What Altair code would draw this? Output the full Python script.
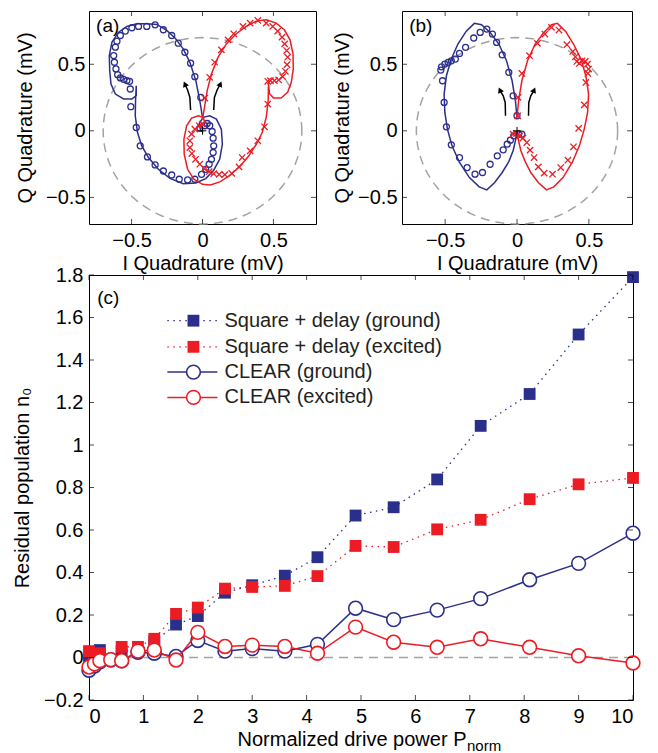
import altair as alt
import numpy as np
import pandas as pd

BLUE = "#2b2f8c"
RED = "#ec1c24"
GRAY = "#a3a3a3"
FONT = "Liberation Sans"

# ---------------- panel (c) data ----------------
p_norm = [0, 0.1, 0.2, 0.4, 0.6, 0.9, 1.2, 1.6, 2.0, 2.5, 3.0, 3.6, 4.2, 4.9, 5.6, 6.4, 7.2, 8.1, 9.0, 10]
square_ground = [-0.01, 0.02, 0.035, -0.01, 0.03, 0.03, 0.075, 0.155, 0.195, 0.305, 0.34, 0.385, 0.472,
                 0.668, 0.707, 0.838, 1.09, 1.24, 1.52, 1.79]
square_excited = [0.03, 0.01, 0.02, -0.01, 0.05, 0.05, 0.088, 0.205, 0.235, 0.324, 0.332, 0.337, 0.383,
                  0.525, 0.52, 0.603, 0.648, 0.745, 0.815, 0.845]
clear_ground = [-0.06, -0.04, -0.02, -0.012, -0.015, 0.025, 0.02, 0.005, 0.08, 0.03, 0.042, 0.03, 0.062,
                0.232, 0.178, 0.223, 0.277, 0.366, 0.443, 0.585]
clear_excited = [-0.045, -0.03, -0.015, -0.01, -0.015, 0.03, 0.035, -0.012, 0.118, 0.052, 0.058, 0.052, 0.02,
                 0.143, 0.072, 0.048, 0.088, 0.048, 0.008, -0.026]
c_xticks = [0, 1, 2, 3, 4, 5, 6, 7, 8, 9, 10]
c_yticks = [-0.2, 0, 0.2, 0.4, 0.6, 0.8, 1.0, 1.2, 1.4, 1.6, 1.8]

legend_labels = ["Square + delay (ground)", "Square + delay (excited)", "CLEAR (ground)", "CLEAR (excited)"]
legend_y = [1.585, 1.462, 1.343, 1.224]
legend_x_line = [1.44, 2.36]
legend_x_marker = 1.92
legend_x_text = 2.49

# ---------------- panel (a) data ----------------
a_ground_sim_I = [0, -0.019, -0.047, -0.089, -0.136, -0.194, -0.252, -0.322, -0.393, -0.463, -0.533, -0.591,
                  -0.638, -0.657, -0.654, -0.645, -0.614, -0.556, -0.498, -0.467, -0.467, -0.472, -0.474, -0.458,
                  -0.428, -0.381, -0.311, -0.229, -0.136, -0.047, 0.023, 0.079, 0.121, 0.140, 0.133, 0.098, 0.051,
                  0.005, -0.023, -0.014, 0.005]
a_ground_sim_Q = [0.10, 0.226, 0.377, 0.515, 0.616, 0.698, 0.754, 0.799, 0.804, 0.804, 0.784, 0.741, 0.666,
                  0.565, 0.452, 0.352, 0.276, 0.239, 0.239, 0.264, 0.339, 0.226, 0.113, -0.013, -0.113, -0.201,
                  -0.289, -0.357, -0.397, -0.392, -0.359, -0.296, -0.214, -0.101, 0.013, 0.088, 0.113, 0.101,
                  0.055, 0.005, -0.013]
a_ground_meas_I = [-0.012, -0.054, -0.084, -0.124, -0.171, -0.217, -0.276, -0.334, -0.393, -0.451, -0.498,
                   -0.544, -0.579, -0.603, -0.614, -0.626, -0.621, -0.610, -0.598, -0.579, -0.556, -0.533, -0.514,
                   -0.509, -0.505, -0.467, -0.439, -0.388, -0.334, -0.276, -0.217, -0.164, -0.105, -0.054,
                   -0.007, 0.023, 0.047, 0.063, 0.075, 0.079, 0.075, 0.068, 0.051, 0.033, 0.016, -0.019]
a_ground_meas_Q = [0.251, 0.407, 0.508, 0.590, 0.658, 0.716, 0.759, 0.796, 0.784, 0.784, 0.774, 0.749, 0.716,
                   0.673, 0.628, 0.565, 0.515, 0.465, 0.422, 0.397, 0.387, 0.377, 0.372, 0.314, 0.181, 0.025,
                   -0.113, -0.196, -0.256, -0.302, -0.332, -0.364, -0.369, -0.364, -0.327, -0.289, -0.251,
                   -0.214, -0.163, -0.113, -0.055, -0.005, 0.038, 0.055, 0.038, 0.020]
a_exc_sim_I = [0, 0.014, 0.033, 0.063, 0.110, 0.168, 0.238, 0.308, 0.379, 0.449, 0.519, 0.577, 0.617, 0.638,
               0.640, 0.626, 0.600, 0.554, 0.500, 0.472, 0.465, 0.463, 0.449, 0.421, 0.379, 0.327, 0.266, 0.196,
               0.126, 0.056, 0, -0.061, -0.105, -0.129, -0.131, -0.112, -0.077, -0.030, 0.005, 0.016]
a_exc_sim_Q = [0.088, 0.176, 0.302, 0.427, 0.553, 0.653, 0.729, 0.784, 0.824, 0.834, 0.809, 0.759, 0.683,
               0.578, 0.465, 0.364, 0.289, 0.246, 0.246, 0.281, 0.357, 0.226, 0.101, -0.013, -0.101, -0.188,
               -0.264, -0.332, -0.382, -0.407, -0.402, -0.364, -0.289, -0.176, -0.063, 0.038, 0.095, 0.113,
               0.101, 0.063]
a_exc_meas_I = [0.016, 0.051, 0.086, 0.133, 0.180, 0.220, 0.285, 0.336, 0.390, 0.449, 0.495, 0.530, 0.561,
                0.579, 0.593, 0.600, 0.596, 0.584, 0.565, 0.537, 0.507, 0.479, 0.460, 0.460, 0.437, 0.390,
                0.336, 0.280, 0.257, 0.206, 0.157, 0.117, 0.079, 0.047, 0.014, -0.019, -0.049, -0.075, -0.089,
                -0.089, -0.077, -0.054, -0.023, 0.0]
a_exc_meas_Q = [0.246, 0.402, 0.515, 0.608, 0.683, 0.729, 0.784, 0.809, 0.829, 0.809, 0.784, 0.749, 0.704,
                0.653, 0.603, 0.553, 0.497, 0.447, 0.407, 0.382, 0.377, 0.377, 0.372, 0.201, 0.030, -0.075,
                -0.151, -0.201, -0.271, -0.319, -0.329, -0.327, -0.322, -0.307, -0.284, -0.251, -0.214, -0.171,
                -0.126, -0.075, -0.025, 0.013, 0.038, 0.05]
a_arrow_I = [[-0.084, -0.089, -0.105, -0.124], [0.079, 0.084, 0.103, 0.126]]
a_arrow_Q = [[0.156, 0.251, 0.307, 0.352], [0.156, 0.251, 0.307, 0.352]]

# ---------------- panel (b) data ----------------
b_ground_sim_I = [0, -0.011, -0.034, -0.073, -0.126, -0.187, -0.247, -0.297, -0.354, -0.411, -0.457, -0.491,
                  -0.507, -0.502, -0.484, -0.452, -0.400, -0.331, -0.263, -0.210, -0.155, -0.103, -0.057,
                  -0.027, -0.011, -0.005]
b_ground_sim_Q = [0.100, 0.226, 0.376, 0.526, 0.652, 0.739, 0.797, 0.807, 0.747, 0.652, 0.539, 0.414, 0.276,
                  0.138, 0.013, -0.113, -0.238, -0.351, -0.421, -0.444, -0.388, -0.313, -0.231, -0.150,
                  -0.075, -0.025]
b_ground_meas_I = [0, -0.027, -0.057, -0.103, -0.142, -0.171, -0.210, -0.256, -0.301, -0.358, -0.400, -0.429,
                   -0.457, -0.479, -0.502, -0.525, -0.530, -0.518, -0.507, -0.491, -0.457, -0.400, -0.347,
                   -0.292, -0.240, -0.187, -0.137, -0.096, -0.068, -0.046, -0.023, 0.011, 0.034]
b_ground_meas_Q = [0.113, 0.263, 0.439, 0.571, 0.664, 0.727, 0.764, 0.739, 0.697, 0.627, 0.581, 0.539, 0.526,
                   0.514, 0.501, 0.481, 0.456, 0.376, 0.213, 0.030, -0.105, -0.201, -0.276, -0.326, -0.313,
                   -0.251, -0.188, -0.143, -0.100, -0.070, -0.038, -0.025, -0.025]
b_exc_sim_I = [0, 0.011, 0.034, 0.073, 0.126, 0.187, 0.240, 0.281, 0.338, 0.393, 0.445, 0.479, 0.498, 0.491,
               0.468, 0.434, 0.384, 0.320, 0.256, 0.205, 0.148, 0.096, 0.057, 0.027, 0.011, 0.005]
b_exc_sim_Q = [0.100, 0.226, 0.376, 0.526, 0.652, 0.739, 0.797, 0.807, 0.747, 0.652, 0.539, 0.414, 0.276,
               0.138, 0.013, -0.113, -0.238, -0.351, -0.421, -0.444, -0.388, -0.313, -0.231, -0.150, -0.075,
               -0.025]
b_exc_meas_I = [0.005, 0.007, 0.034, 0.087, 0.142, 0.194, 0.240, 0.292, 0.347, 0.388, 0.406, 0.416, 0.434,
                0.452, 0.475, 0.491, 0.498, 0.493, 0.479, 0.468, 0.429, 0.393, 0.354, 0.304, 0.247, 0.189,
                0.148, 0.119, 0.091, 0.068, 0.041, 0.018, -0.005, -0.027]
b_exc_meas_Q = [0.113, 0.251, 0.431, 0.564, 0.657, 0.727, 0.777, 0.757, 0.647, 0.596, 0.556, 0.521, 0.506,
                0.526, 0.521, 0.501, 0.464, 0.431, 0.363, 0.195, 0.018, -0.120, -0.221, -0.276, -0.326, -0.318,
                -0.271, -0.201, -0.145, -0.088, -0.055, -0.038, -0.020, -0.025]
b_arrow_I = [[-0.080, -0.082, -0.096, -0.119], [0.080, 0.082, 0.096, 0.119]]
b_arrow_Q = [[0.113, 0.213, 0.263, 0.306], [0.113, 0.213, 0.263, 0.306]]

quad_ticks = [-0.5, 0, 0.5]
quad_x_domain = [-0.8, 0.8]
quad_y_domain = [-0.7, 0.9]
R_CIRCLE = 0.7
arrow_head_angles = [336, 24]

X_PATH = "M-1,-1L1,1M-1,1L1,-1"
PLUS_PATH = "M-1,0L1,0M0,-1L0,1"
LABEL_EXPR = "replace(toString(datum.value), '-', '\u2212')"


def inner_ticks(xvals, yvals, xenc, yenc, W, H, L=5):
    tx = pd.DataFrame({"x": xvals})
    ty = pd.DataFrame({"y": yvals})
    out = []
    for yv in (H - L / 2, L / 2):
        out.append(alt.Chart(tx).mark_tick(orient="vertical", color="black", size=L, thickness=1).encode(
            x=xenc(), y=alt.value(yv)))
    for xv in (L / 2, W - L / 2):
        out.append(alt.Chart(ty).mark_tick(orient="horizontal", color="black", size=L, thickness=1).encode(
            y=yenc(), x=alt.value(xv)))
    return out


def quad_panel(gs_I, gs_Q, gm_I, gm_Q, es_I, es_Q, em_I, em_Q, arr_I, arr_Q, label, W, H, ylp, ytp):
    xs = alt.Scale(domain=quad_x_domain, nice=False, zero=False)
    ys = alt.Scale(domain=quad_y_domain, nice=False, zero=False)
    ax_x = alt.Axis(values=quad_ticks, title="I Quadrature (mV)", labelExpr=LABEL_EXPR, labelPadding=6,
                    titlePadding=3)
    ax_y = alt.Axis(values=quad_ticks, title="Q Quadrature (mV)", labelExpr=LABEL_EXPR, labelPadding=ylp,
                    titlePadding=ytp)
    XE = lambda: alt.X("x:Q", scale=xs, axis=ax_x)
    YE = lambda: alt.Y("y:Q", scale=ys, axis=ax_y)

    th = np.linspace(0, 2 * np.pi, 121)
    circ = pd.DataFrame({"x": R_CIRCLE * np.cos(th), "y": R_CIRCLE * np.sin(th), "i": np.arange(121)})
    circle = alt.Chart(circ).mark_line(color=GRAY, strokeDash=[9, 6], strokeWidth=1.5).encode(
        x=XE(), y=YE(), order="i:Q")

    def path(I, Q, color):
        df = pd.DataFrame({"x": I, "y": Q, "i": range(len(I))})
        return alt.Chart(df).mark_line(color=color, strokeWidth=1.5).encode(x=XE(), y=YE(), order="i:Q")

    def pts(I, Q, color, shape, size):
        df = pd.DataFrame({"x": I, "y": Q})
        return alt.Chart(df).mark_point(shape=shape, filled=False, color=color, size=size, strokeWidth=1.3,
                                        opacity=1).encode(x=XE(), y=YE())

    rows = []
    for k in range(len(arr_I)):
        for j in range(len(arr_I[k])):
            rows.append({"x": arr_I[k][j], "y": arr_Q[k][j], "a": k, "i": j})
    adf = pd.DataFrame(rows)
    arrows = alt.Chart(adf).mark_line(color="black", strokeWidth=1.5).encode(
        x=XE(), y=YE(), detail="a:N", order="i:Q")
    heads = pd.DataFrame({"x": [a[-1] for a in arr_I], "y": [a[-1] for a in arr_Q], "ang": arrow_head_angles})
    arrow_heads = alt.Chart(heads).mark_point(shape="triangle-up", filled=True, color="black", size=40,
                                             opacity=1).encode(
        x=XE(), y=YE(), angle=alt.Angle("ang:Q", scale=None))
    origin = alt.Chart(pd.DataFrame({"x": [0], "y": [0]})).mark_point(
        shape=PLUS_PATH, filled=False, color="black", size=60, strokeWidth=1, opacity=1).encode(x=XE(), y=YE())
    lab = alt.Chart(pd.DataFrame({"x": [-0.75], "y": [0.79], "t": [label]})).mark_text(
        align="left", baseline="middle", fontSize=19, font=FONT, color="black").encode(
        x=XE(), y=YE(), text="t:N")

    layers = [circle, path(gs_I, gs_Q, BLUE), pts(gm_I, gm_Q, BLUE, "circle", 36),
              path(es_I, es_Q, RED), pts(em_I, em_Q, RED, X_PATH, 40),
              arrows, arrow_heads, origin, lab] + inner_ticks(quad_ticks, quad_ticks, XE, YE, W, H)
    return alt.layer(*layers).properties(width=W, height=H)


A_W, A_H = 227, 213
B_W = 230
C_W, C_H = 544, 425
C_TITLE_X = 148
C_SUB_DX = 230

panel_a = quad_panel(a_ground_sim_I, a_ground_sim_Q, a_ground_meas_I, a_ground_meas_Q,
                     a_exc_sim_I, a_exc_sim_Q, a_exc_meas_I, a_exc_meas_Q, a_arrow_I, a_arrow_Q, "(a)",
                     A_W, A_H, 4, 10)
panel_b = quad_panel(b_ground_sim_I, b_ground_sim_Q, b_ground_meas_I, b_ground_meas_Q,
                     b_exc_sim_I, b_exc_sim_Q, b_exc_meas_I, b_exc_meas_Q, b_arrow_I, b_arrow_Q, "(b)",
                     B_W, A_H, 5, 5)

# ---------------- panel (c) ----------------
xs_c = alt.Scale(domain=[0, 10], nice=False, zero=False)
ys_c = alt.Scale(domain=[-0.2, 1.8], nice=False, zero=False)
c_xaxis = alt.Axis(values=c_xticks, title="Normalized drive power P", labelExpr=LABEL_EXPR,
                   labelPadding=6, titlePadding=3, titleX=C_TITLE_X, titleAlign="left")
c_yaxis = alt.Axis(values=c_yticks, title="Residual population n₀", labelExpr=LABEL_EXPR, labelPadding=6,
                   titlePadding=11)

X = lambda: alt.X("x:Q", scale=xs_c, axis=c_xaxis)
Y = lambda: alt.Y("y:Q", scale=ys_c, axis=c_yaxis)

zero = alt.Chart(pd.DataFrame({"y": [0]})).mark_rule(color=GRAY, strokeDash=[9, 6], strokeWidth=1.5).encode(
    y=Y())

c_layers = [zero]
series = [(square_ground, BLUE, "sq"), (square_excited, RED, "sq"), (clear_ground, BLUE, "cl"),
          (clear_excited, RED, "cl")]
for vals, col, kind in series:
    df = pd.DataFrame({"x": p_norm, "y": vals})
    if kind == "sq":
        line = alt.Chart(df).mark_line(color=col, strokeDash=[1.5, 4.5], strokeWidth=1.3).encode(x=X(), y=Y())
        pt = alt.Chart(df).mark_point(shape="square", filled=True, color=col, size=140, opacity=1).encode(
            x=X(), y=Y())
    else:
        line = alt.Chart(df).mark_line(color=col, strokeWidth=1.5).encode(x=X(), y=Y())
        pt = alt.Chart(df).mark_point(shape="circle", filled=True, fill="white", stroke=col, strokeWidth=1.6,
                                      size=190, opacity=1).encode(x=X(), y=Y())
    c_layers += [line, pt]

# legend
for k, (vals, col, kind) in enumerate(series):
    ldf = pd.DataFrame({"x": legend_x_line, "y": [legend_y[k]] * 2})
    mdf = pd.DataFrame({"x": [legend_x_marker], "y": [legend_y[k]]})
    if kind == "sq":
        c_layers.append(alt.Chart(ldf).mark_line(color=col, strokeDash=[1.5, 4.5], strokeWidth=1.3).encode(
            x=X(), y=Y()))
        c_layers.append(alt.Chart(mdf).mark_point(shape="square", filled=True, color=col, size=140,
                                                  opacity=1).encode(x=X(), y=Y()))
    else:
        c_layers.append(alt.Chart(ldf).mark_line(color=col, strokeWidth=1.5).encode(x=X(), y=Y()))
        c_layers.append(alt.Chart(mdf).mark_point(shape="circle", filled=True, fill="white", stroke=col,
                                                  strokeWidth=1.6, size=190, opacity=1).encode(x=X(), y=Y()))
tdf = pd.DataFrame({"x": [legend_x_text] * 4, "y": legend_y, "t": legend_labels})
c_layers.append(alt.Chart(tdf).mark_text(align="left", baseline="middle", fontSize=20, font=FONT,
                                         color="#231f20").encode(x=X(), y=Y(), text="t:N"))
c_layers.append(alt.Chart(pd.DataFrame({"x": [0.15], "y": [1.69], "t": ["(c)"]})).mark_text(
    align="left", baseline="middle", fontSize=19, font=FONT, color="black").encode(x=X(), y=Y(), text="t:N"))
# subscript of the x-axis title
c_layers.append(alt.Chart(pd.DataFrame({"t": ["norm"]})).mark_text(
    align="left", baseline="alphabetic", fontSize=15, font=FONT, color="black").encode(
    x=alt.value(C_TITLE_X + C_SUB_DX), y=alt.value(C_H + 51), text="t:N"))
c_layers += inner_ticks(c_xticks, c_yticks, X, Y, C_W, C_H)

panel_c = alt.layer(*c_layers).properties(width=C_W, height=C_H)

top = alt.hconcat(panel_a, panel_b, spacing=86, bounds="flush")
chart = alt.vconcat(top, panel_c, spacing=-10).properties(
    padding={"left": 4, "top": 2, "right": 2, "bottom": 0}
).configure(font=FONT).configure_view(stroke="black", strokeWidth=1).configure_axis(
    domain=False, ticks=False, tickSize=0, grid=False, labelFont=FONT, labelFontSize=20, titleFont=FONT,
    titleFontSize=20, titleFontWeight="normal", labelColor="black", titleColor="black")

chart.save("out.html", embed_options={"renderer": "svg", "actions": False})
